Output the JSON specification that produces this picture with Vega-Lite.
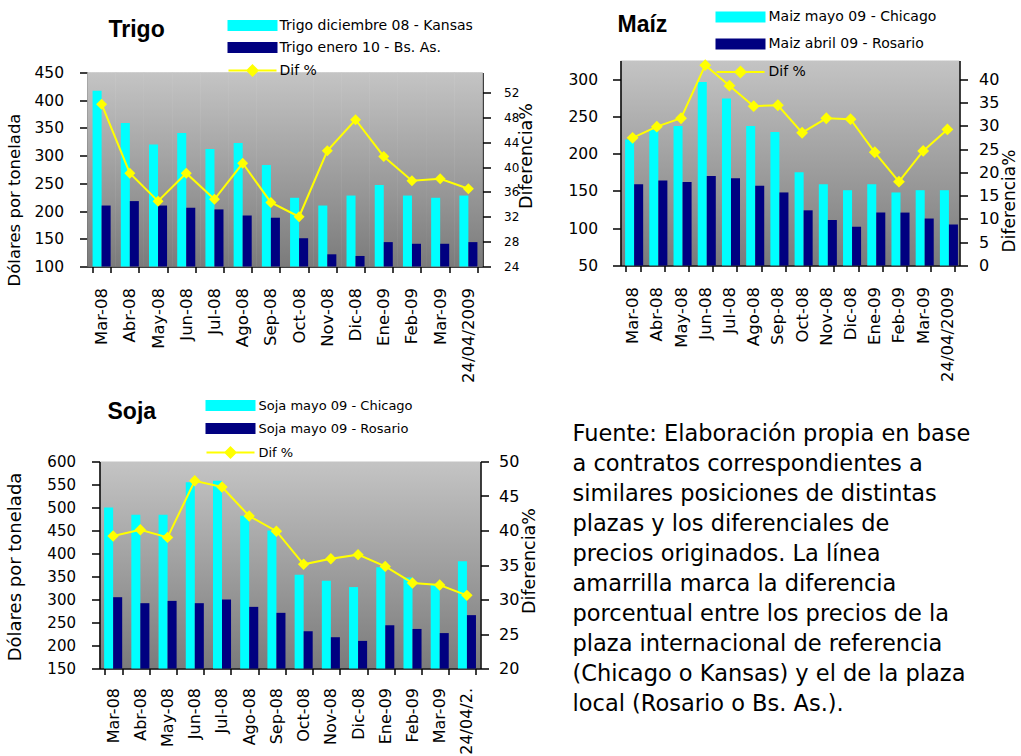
{
  "$schema": "https://vega.github.io/schema/vega-lite/v6.json",
  "background": "white",
  "padding": {"left": 5.5, "top": 9.5, "right": 0, "bottom": 0},
  "config": {
    "font": "DejaVu Sans",
    "view": {"stroke": null},
    "axis": {"grid": false, "labelColor": "black", "titleColor": "black", "domainColor": "black", "tickColor": "black", "domainWidth": 1.5, "tickWidth": 1.5, "labelFont": "DejaVu Sans", "titleFont": "DejaVu Sans", "titleFontWeight": "normal"},
    "axisX": {"labelAngle": 270, "labelFontSize": 16.5, "tickSize": 6, "labelPadding": 15, "tickBand": "extent", "title": null},
    "legend": {"title": null, "orient": "none", "direction": "vertical", "padding": 0, "symbolSize": 144, "symbolOffset": 20, "labelOffset": 21, "labelFont": "DejaVu Sans", "labelColor": "black", "labelLimit": 400},
    "title": {"anchor": "start", "frame": "group", "font": "Liberation Sans", "fontSize": 23, "fontWeight": "bold", "color": "black", "baseline": "alphabetic"}
  },
  "datasets": {
    "trigo": [
      {"mes": "Mar-08", "internacional": 417, "local": 210, "dif": 50.1},
      {"mes": "Abr-08", "internacional": 359, "local": 218, "dif": 39.0},
      {"mes": "May-08", "internacional": 320, "local": 210, "dif": 34.5},
      {"mes": "Jun-08", "internacional": 341, "local": 206, "dif": 39.0},
      {"mes": "Jul-08", "internacional": 312, "local": 203, "dif": 34.8},
      {"mes": "Ago-08", "internacional": 323, "local": 192, "dif": 40.6},
      {"mes": "Sep-08", "internacional": 283, "local": 188, "dif": 34.3},
      {"mes": "Oct-08", "internacional": 224, "local": 151, "dif": 32.0},
      {"mes": "Nov-08", "internacional": 210, "local": 122, "dif": 42.6},
      {"mes": "Dic-08", "internacional": 228, "local": 119, "dif": 47.6},
      {"mes": "Ene-09", "internacional": 247, "local": 144, "dif": 41.7},
      {"mes": "Feb-09", "internacional": 228, "local": 141, "dif": 37.8},
      {"mes": "Mar-09", "internacional": 224, "local": 141, "dif": 38.1},
      {"mes": "24/04/2009", "internacional": 228, "local": 144, "dif": 36.5}
    ],
    "maiz": [
      {"mes": "Mar-08", "internacional": 219, "local": 159, "dif": 27.4},
      {"mes": "Abr-08", "internacional": 232, "local": 164, "dif": 29.8},
      {"mes": "May-08", "internacional": 237, "local": 162, "dif": 31.6},
      {"mes": "Jun-08", "internacional": 296, "local": 170, "dif": 43.0},
      {"mes": "Jul-08", "internacional": 274, "local": 167, "dif": 38.6},
      {"mes": "Ago-08", "internacional": 237, "local": 157, "dif": 34.2},
      {"mes": "Sep-08", "internacional": 229, "local": 148, "dif": 34.4},
      {"mes": "Oct-08", "internacional": 175, "local": 124, "dif": 28.5},
      {"mes": "Nov-08", "internacional": 159, "local": 111, "dif": 31.6},
      {"mes": "Dic-08", "internacional": 151, "local": 102, "dif": 31.4},
      {"mes": "Ene-09", "internacional": 159, "local": 121, "dif": 24.3},
      {"mes": "Feb-09", "internacional": 148, "local": 121, "dif": 18.0},
      {"mes": "Mar-09", "internacional": 151, "local": 113, "dif": 24.6},
      {"mes": "24/04/2009", "internacional": 151, "local": 105, "dif": 29.2}
    ],
    "soja": [
      {"mes": "Mar-08", "internacional": 500, "local": 305, "dif": 39.2},
      {"mes": "Abr-08", "internacional": 484, "local": 292, "dif": 40.1},
      {"mes": "May-08", "internacional": 484, "local": 297, "dif": 39.0},
      {"mes": "Jun-08", "internacional": 555, "local": 292, "dif": 47.2},
      {"mes": "Jul-08", "internacional": 558, "local": 300, "dif": 46.3},
      {"mes": "Ago-08", "internacional": 482, "local": 284, "dif": 42.1},
      {"mes": "Sep-08", "internacional": 450, "local": 271, "dif": 39.9},
      {"mes": "Oct-08", "internacional": 354, "local": 231, "dif": 35.1},
      {"mes": "Nov-08", "internacional": 341, "local": 218, "dif": 35.9},
      {"mes": "Dic-08", "internacional": 327, "local": 210, "dif": 36.5},
      {"mes": "Ene-09", "internacional": 370, "local": 244, "dif": 34.8},
      {"mes": "Feb-09", "internacional": 348, "local": 236, "dif": 32.4},
      {"mes": "Mar-09", "internacional": 333, "local": 227, "dif": 32.1},
      {"mes": "24/04/2009", "internacional": 383, "local": 266, "dif": 30.6}
    ],
    "texto": [
      {"linea": 0, "texto": "Fuente: Elaboración propia en base"},
      {"linea": 1, "texto": "a contratos correspondientes a"},
      {"linea": 2, "texto": "similares posiciones de distintas"},
      {"linea": 3, "texto": "plazas y los diferenciales de"},
      {"linea": 4, "texto": "precios originados. La línea"},
      {"linea": 5, "texto": "amarrilla marca la diferencia"},
      {"linea": 6, "texto": "porcentual entre los precios de la"},
      {"linea": 7, "texto": "plaza internacional de referencia"},
      {"linea": 8, "texto": "(Chicago o Kansas) y el de la plaza"},
      {"linea": 9, "texto": "local (Rosario o Bs. As.)."}
    ]
  },
  "columns": 2,
  "align": "none",
  "spacing": {"row": 15, "column": 29},
  "resolve": {"scale": {"color": "independent"}, "legend": {"color": "independent"}},
  "concat": [
    {
      "width": 383,
      "height": 206,
      "data": {"name": "trigo"},
      "title": {"text": "Trigo", "dx": 9, "dy": 27},
      "view": {"stroke": null},
      "layer": [
        {
          "layer": [
            {
              "mark": {"type": "bar", "width": {"band": 1.5625}, "strokeWidth": 0.6,
                "fill": {"gradient": "linear", "x1": 0, "y1": 0, "x2": 0, "y2": 1, "stops": [{"offset": 0, "color": "#c4c4c4"}, {"offset": 1, "color": "#7b7b7b"}]},
                "stroke": {"gradient": "linear", "x1": 0, "y1": 0, "x2": 0, "y2": 1, "stops": [{"offset": 0, "color": "#c4c4c4"}, {"offset": 1, "color": "#7b7b7b"}]}},
              "encoding": {
                "x": {"field": "mes", "type": "nominal", "sort": null, "scale": {"paddingInner": 0.36, "paddingOuter": 0.18, "range": [-12, 383]}},
                "y": {"datum": 450, "type": "quantitative", "scale": {"domain": [100, 450], "range": [206, 12], "nice": false, "zero": false, "clamp": true},
                  "axis": {"orient": "left", "offset": 12, "values": [100, 150, 200, 250, 300, 350, 400, 450], "labelOverlap": false, "tickSize": 8, "labelPadding": 16, "labelFontSize": 15.5, "title": "Dólares por tonelada", "titleFontSize": 16.5, "titleAngle": 270, "titleBaseline": "bottom", "titleX": -65, "titleY": 139}},
                "y2": {"datum": 100}
              }
            },
            {
              "transform": [{"fold": ["internacional", "local"], "as": ["serie", "precio"]}],
              "mark": {"type": "bar"},
              "encoding": {
                "x": {"field": "mes", "type": "nominal", "sort": null},
                "xOffset": {"field": "serie", "type": "nominal", "scale": {"domain": ["internacional", "local"]}},
                "y": {"field": "precio", "type": "quantitative",
                  "axis": {"orient": "left", "offset": 12, "values": [100, 150, 200, 250, 300, 350, 400, 450], "labelOverlap": false, "tickSize": 8, "labelPadding": 16, "labelFontSize": 15.5, "title": "Dólares por tonelada", "titleFontSize": 16.5, "titleAngle": 270, "titleBaseline": "bottom", "titleX": -65, "titleY": 139}},
                "color": {"field": "serie", "type": "nominal", "scale": {"domain": ["internacional", "local", "dif"], "range": ["#00ffff", "#000080", "#ffff00"]},
                  "legend": {"legendX": 126, "legendY": -42, "rowPadding": 4, "labelOffset": 20, "labelFontSize": 14,
                    "labelExpr": "datum.label === 'internacional' ? 'Trigo diciembre 08 - Kansas' : datum.label === 'local' ? 'Trigo enero 10 - Bs. As.' : 'Dif %'",
                    "encode": {"symbols": {"update": {
                      "shape": {"signal": "datum.value === 'dif' ? 'M-4,0H4M0,-0.85L0.85,0L0,0.85L-0.85,0Z' : 'M-4,-0.75H4V0.75H-4Z'"},
                      "fill": {"signal": "datum.value === 'dif' ? '#ffff00' : datum.value === 'internacional' ? '#00ffff' : '#000080'"},
                      "stroke": {"signal": "datum.value === 'dif' ? '#eeee00' : 'transparent'"},
                      "strokeWidth": {"value": 2},
                      "opacity": {"value": 1}}}}}}
              }
            }
          ]
        },
        {
          "mark": {"type": "line", "strokeWidth": 2, "point": {"shape": "diamond", "size": 120, "filled": true}},
          "encoding": {
            "x": {"field": "mes", "type": "nominal", "sort": null},
            "y": {"field": "dif", "type": "quantitative", "scale": {"domain": [24, 55.2], "range": [206, 12], "nice": false, "zero": false},
              "axis": {"orient": "right", "values": [24, 28, 32, 36, 40, 44, 48, 52], "labelOverlap": false, "tickSize": 8, "labelPadding": 13, "labelFontSize": 12, "title": "Diferencia%", "titleFontSize": 17.5, "titleAngle": 270, "titleBaseline": "bottom", "titleX": 53, "titleY": 95}},
            "color": {"datum": "dif", "type": "nominal"}
          }
        }
      ],
      "resolve": {"scale": {"y": "independent"}}
    },
    {
      "width": 339,
      "height": 205,
      "data": {"name": "maiz"},
      "title": {"text": "Maíz", "dx": -3, "dy": 30.5},
      "view": {"stroke": null, "fill": {"gradient": "linear", "x1": 0, "y1": 0, "x2": 0, "y2": 1, "stops": [{"offset": 0, "color": "#c4c4c4"}, {"offset": 1, "color": "#7b7b7b"}]}},
      "layer": [
        {
          "transform": [{"fold": ["internacional", "local"], "as": ["serie", "precio"]}],
          "mark": {"type": "bar"},
          "encoding": {
            "x": {"field": "mes", "type": "nominal", "sort": null, "scale": {"paddingInner": 0.38, "paddingOuter": 0.19}},
            "xOffset": {"field": "serie", "type": "nominal", "scale": {"domain": ["internacional", "local"]}},
            "y": {"field": "precio", "type": "quantitative", "scale": {"domain": [50, 325], "nice": false, "zero": false, "clamp": true},
              "axis": {"orient": "left", "values": [50, 100, 150, 200, 250, 300], "labelOverlap": false, "tickSize": 8, "labelPadding": 15, "labelFontSize": 15.5, "title": null}},
            "color": {"field": "serie", "type": "nominal", "scale": {"domain": ["internacional", "local", "dif"], "range": ["#00ffff", "#000080", "#ffff00"]},
              "legend": {"legendX": 93, "legendY": -50.5, "rowPadding": 9, "labelFontSize": 14,
                "labelExpr": "datum.label === 'internacional' ? 'Maiz mayo 09 - Chicago' : datum.label === 'local' ? 'Maiz abril 09 - Rosario' : 'Dif %'",
                "encode": {"symbols": {"update": {
                  "shape": {"signal": "datum.value === 'dif' ? 'M-4,0H4M0,-0.85L0.85,0L0,0.85L-0.85,0Z' : 'M-4,-0.75H4V0.75H-4Z'"},
                  "fill": {"signal": "datum.value === 'dif' ? '#ffff00' : datum.value === 'internacional' ? '#00ffff' : '#000080'"},
                  "stroke": {"signal": "datum.value === 'dif' ? '#eeee00' : 'transparent'"},
                  "strokeWidth": {"value": 2},
                  "opacity": {"value": 1}}}}}}
          }
        },
        {
          "mark": {"type": "line", "strokeWidth": 2, "point": {"shape": "diamond", "size": 140, "filled": true}},
          "encoding": {
            "x": {"field": "mes", "type": "nominal", "sort": null},
            "y": {"field": "dif", "type": "quantitative", "scale": {"domain": [0, 44], "nice": false, "zero": false},
              "axis": {"orient": "right", "values": [0, 5, 10, 15, 20, 25, 30, 35, 40], "labelOverlap": false, "tickSize": 8, "labelPadding": 11, "labelFontSize": 16, "title": "Diferencia%", "titleFontSize": 17, "titleAngle": 270, "titleBaseline": "bottom", "titleX": 59, "titleY": 140}},
            "color": {"datum": "dif", "type": "nominal"}
          }
        }
      ],
      "resolve": {"scale": {"y": "independent"}}
    },
    {
      "width": 381,
      "height": 207,
      "data": {"name": "soja"},
      "title": {"text": "Soja", "dx": 8, "dy": 29.3},
      "view": {"stroke": null, "fill": {"gradient": "linear", "x1": 0, "y1": 0, "x2": 0, "y2": 1, "stops": [{"offset": 0, "color": "#c4c4c4"}, {"offset": 1, "color": "#7b7b7b"}]}},
      "layer": [
        {
          "transform": [{"fold": ["internacional", "local"], "as": ["serie", "precio"]}],
          "mark": {"type": "bar"},
          "encoding": {
            "x": {"field": "mes", "type": "nominal", "sort": null, "scale": {"paddingInner": 0.34, "paddingOuter": 0.17},
              "axis": {"labelExpr": "datum.label === '24/04/2009' ? '24/04/2.' : datum.label", "labelFontSize": 16, "labelPadding": 13}},
            "xOffset": {"field": "serie", "type": "nominal", "scale": {"domain": ["internacional", "local"]}},
            "y": {"field": "precio", "type": "quantitative", "scale": {"domain": [150, 600], "nice": false, "zero": false, "clamp": true},
              "axis": {"orient": "left", "values": [150, 200, 250, 300, 350, 400, 450, 500, 550, 600], "labelOverlap": false, "tickSize": 8, "labelPadding": 16, "labelFontSize": 15, "title": "Dólares por tonelada", "titleFontSize": 18, "titleAngle": 270, "titleBaseline": "bottom", "titleX": -75.5, "titleY": 105}},
            "color": {"field": "serie", "type": "nominal", "scale": {"domain": ["internacional", "local", "dif"], "range": ["#00ffff", "#000080", "#ffff00"]},
              "legend": {"legendX": 104, "legendY": -63, "rowPadding": 5, "labelFontSize": 13,
                "labelExpr": "datum.label === 'internacional' ? 'Soja mayo 09 - Chicago' : datum.label === 'local' ? 'Soja mayo 09 - Rosario' : 'Dif %'",
                "encode": {"symbols": {"update": {
                  "shape": {"signal": "datum.value === 'dif' ? 'M-4,0H4M0,-0.85L0.85,0L0,0.85L-0.85,0Z' : 'M-4,-0.75H4V0.75H-4Z'"},
                  "fill": {"signal": "datum.value === 'dif' ? '#ffff00' : datum.value === 'internacional' ? '#00ffff' : '#000080'"},
                  "stroke": {"signal": "datum.value === 'dif' ? '#eeee00' : 'transparent'"},
                  "strokeWidth": {"value": 2},
                  "opacity": {"value": 1}}}}}}
          }
        },
        {
          "mark": {"type": "line", "strokeWidth": 2, "point": {"shape": "diamond", "size": 130, "filled": true}},
          "encoding": {
            "x": {"field": "mes", "type": "nominal", "sort": null},
            "y": {"field": "dif", "type": "quantitative", "scale": {"domain": [20, 50], "nice": false, "zero": false},
              "axis": {"orient": "right", "values": [20, 25, 30, 35, 40, 45, 50], "labelOverlap": false, "tickSize": 8, "labelPadding": 10, "labelFontSize": 16, "title": "Diferencia%", "titleFontSize": 17.5, "titleAngle": 270, "titleBaseline": "bottom", "titleX": 58, "titleY": 99}},
            "color": {"datum": "dif", "type": "nominal"}
          }
        }
      ],
      "resolve": {"scale": {"y": "independent"}}
    },
    {
      "width": 424,
      "height": 330,
      "data": {"name": "texto"},
      "view": {"stroke": null},
      "mark": {"type": "text", "align": "left", "baseline": "alphabetic", "font": "DejaVu Sans", "fontSize": 22.5, "color": "black"},
      "encoding": {
        "x": {"value": 5},
        "y": {"field": "linea", "type": "quantitative", "scale": {"domain": [-1.4, 9.6], "reverse": true, "nice": false, "zero": false}, "axis": null},
        "text": {"field": "texto", "type": "nominal"}
      }
    }
  ]
}
